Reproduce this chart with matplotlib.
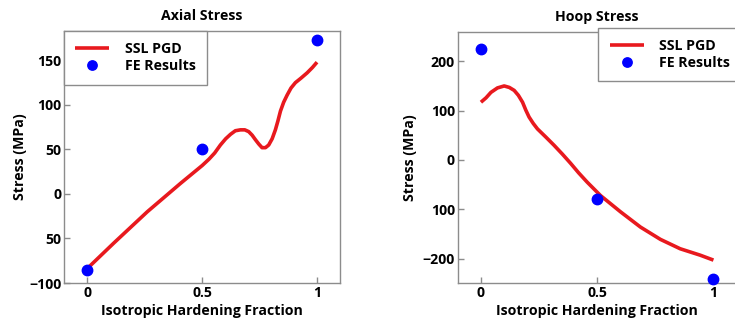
import matplotlib
matplotlib.use("Agg")
import matplotlib.pyplot as plt
import numpy as np

plt.rcParams['font.family'] = ['Open Sans', 'DejaVu Sans']
plt.rcParams['font.weight'] = 'bold'
plt.rcParams['axes.titleweight'] = 'bold'
plt.rcParams['axes.labelweight'] = 'bold'

# Axial stress
axial_line_x = [0.0, 0.117, 0.262, 0.407, 0.501, 0.530, 0.555, 0.580, 0.603, 0.624, 0.645, 0.667,
                0.686, 0.703, 0.718, 0.732, 0.747, 0.761, 0.776, 0.790, 0.805, 0.819, 0.830,
                0.841, 0.855, 0.870, 0.887, 0.906, 0.930, 0.957, 0.980, 1.0]
axial_line_y = [-84, -55, -20, 12, 32, 39, 46, 55, 62, 67, 71, 72,
                72, 70, 66, 61, 56, 52, 52, 55, 62, 72, 82,
                93, 103, 111, 119, 125, 130, 136, 142, 148]
axial_fe_x = [0.0, 0.5, 1.0]
axial_fe_y = [-85, 51, 173]

# Hoop stress
hoop_line_x = [0.0, 0.022, 0.043, 0.071, 0.1, 0.122, 0.143, 0.161, 0.179, 0.193, 0.207, 0.225,
               0.243, 0.280, 0.314, 0.350, 0.386, 0.420, 0.457, 0.514,
               0.6, 0.686, 0.772, 0.857, 0.943, 1.0]
hoop_line_y = [117, 126, 137, 146, 150, 147, 141, 131, 117, 101, 87, 74,
               63, 46, 30, 12, -7, -26, -45, -72,
               -105, -136, -161, -180, -193, -203]
hoop_fe_x = [0.0, 0.5, 1.0]
hoop_fe_y = [224, -80, -241]

x_ticks = [0, 0.5, 1]
x_ticklabels = ['0', '0.5', '1']
axial_yticks = [-100, -50, 0, 50, 100, 150]
axial_yticklabels = ['\u2212100', '50', '0', '50', '100', '150']
hoop_yticks = [-200, -100, 0, 100, 200]
hoop_yticklabels = ['\u2212200', '100', '0', '100', '200']

RED = '#e8191e'
BLUE = '#0000ff'
GRAY = '#8c8c8c'
FS = 10.2

fig = plt.figure(figsize=(7.35, 3.22), dpi=100)
ax1 = fig.add_axes([0.0871, 0.1211, 0.3755, 0.7826])
ax2 = fig.add_axes([0.6227, 0.1202, 0.3796, 0.7814])

def style(ax, title, xt, xtl, yt, ytl, ylim, ylab_x):
    ax.set_xlim(-0.1, 1.1)
    ax.set_ylim(*ylim)
    ax.set_xticks(xt)
    ax.set_xticklabels(xtl, fontsize=FS, fontweight='bold')
    ax.set_yticks(yt)
    ax.set_yticklabels(ytl, fontsize=FS, fontweight='bold')
    ax.tick_params(direction='in', length=4, width=1, color=GRAY, pad=2,
                   top=False, right=False)
    for s in ax.spines.values():
        s.set_color(GRAY)
        s.set_linewidth(1)
    ax.set_title(title, fontsize=FS, pad=8, fontweight='bold')
    ax.set_xlabel('Isotropic Hardening Fraction', fontsize=FS, labelpad=3, fontweight='bold')
    ax.set_ylabel('Stress (MPa)', fontsize=FS, fontweight='bold', va='center')
    ax.yaxis.set_label_coords(ylab_x, 0.5)

ax1.plot(axial_line_x, axial_line_y, color=RED, lw=2.6, label='SSL PGD',
         solid_capstyle='butt', solid_joinstyle='round')
ax1.plot(axial_fe_x, axial_fe_y, 'o', color=BLUE, ms=7.5, label='FE Results', clip_on=False, zorder=3)
style(ax1, 'Axial Stress', x_ticks, x_ticklabels, axial_yticks, axial_yticklabels, (-100, 183), -0.159)

ax2.plot(hoop_line_x, hoop_line_y, color=RED, lw=2.6, label='SSL PGD',
         solid_capstyle='butt', solid_joinstyle='round')
ax2.plot(hoop_fe_x, hoop_fe_y, 'o', color=BLUE, ms=7.5, label='FE Results', clip_on=False, zorder=3)
style(ax2, 'Hoop Stress', x_ticks, x_ticklabels, hoop_yticks, hoop_yticklabels, (-250, 260), -0.171)

leg_kw = dict(fontsize=FS, fancybox=False, edgecolor=GRAY, framealpha=1,
              handlelength=2.4, handletextpad=1.1, borderpad=0.8, labelspacing=0.2,
              borderaxespad=0, markerscale=0.9)
l1 = ax1.legend(loc='upper left', **leg_kw)
l1.get_frame().set_linewidth(1)
l2 = ax2.legend(loc='upper left', bbox_to_anchor=(598.3 / 735, 1 - 27.5 / 322),
                bbox_transform=fig.transFigure, **leg_kw)
l2.get_frame().set_linewidth(1)

fig.savefig('out.png', dpi=100)
